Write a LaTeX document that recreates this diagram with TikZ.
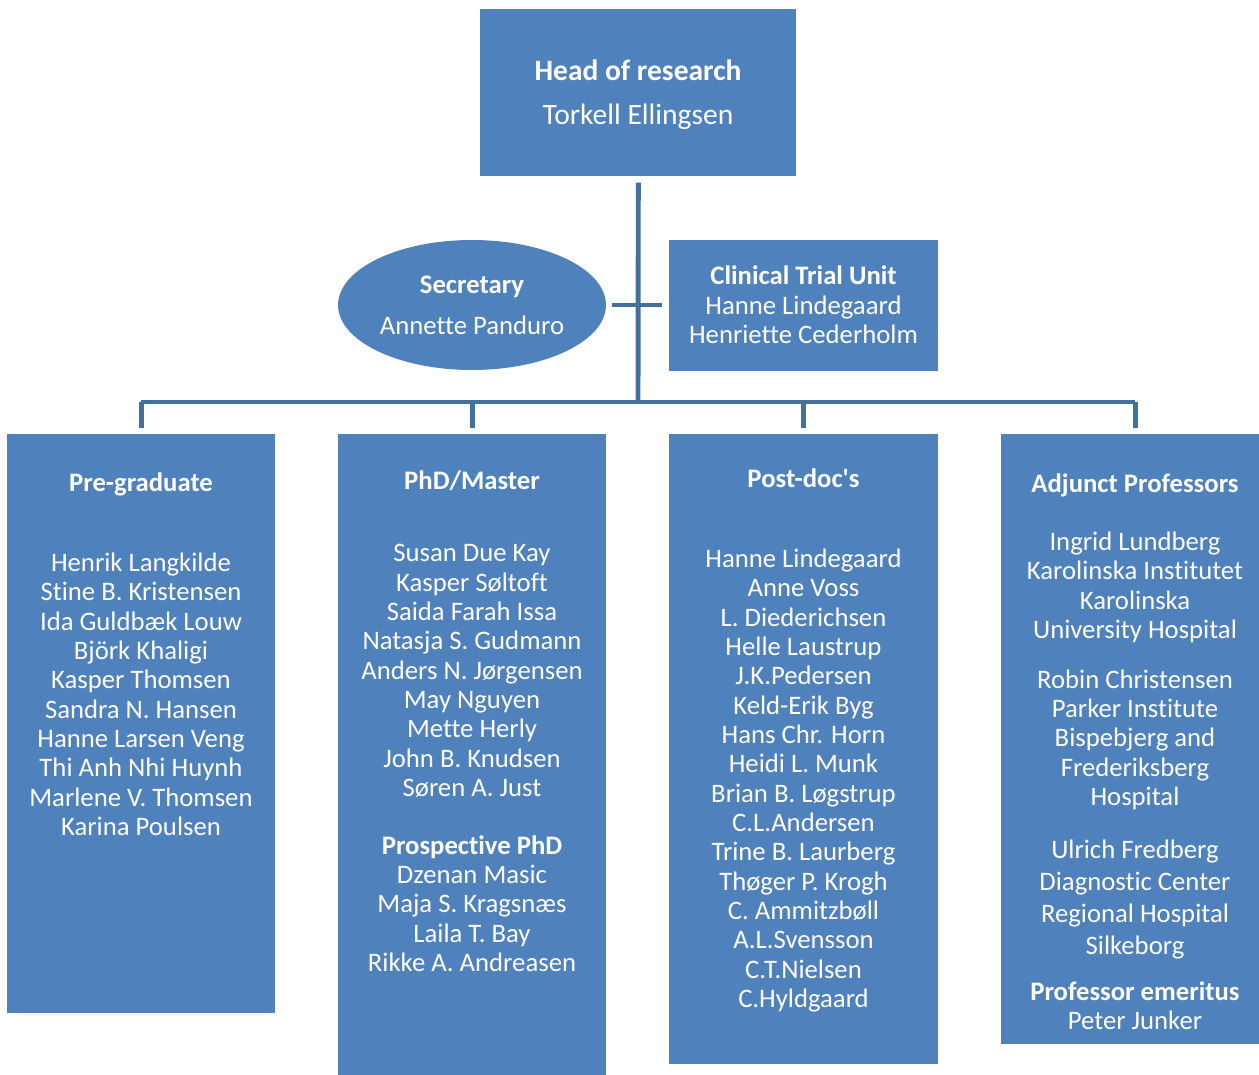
\documentclass[tikz,border=0pt]{standalone}
\usepackage{fontspec}
\setmainfont{Carlito}[Ligatures=NoCommon]
\usetikzlibrary{shapes.geometric}
\definecolor{boxblue}{HTML}{4F81BD}
\definecolor{linkblue}{HTML}{41719C}
\begin{document}
\begin{tikzpicture}[x=0.02cm, y=-0.02cm, line join=round,
		font=\fontsize{15.2}{16.7}\selectfont,
		unit/.style={fill=boxblue, draw=none, inner sep=0pt, anchor=north west},
		txt/.style={text=white, align=center, inner sep=0pt, anchor=base, yshift=-0.05cm},
		link/.style={draw=linkblue, line width=2.8pt}]
	\def\bw{5.36cm} % Box width
	\useasboundingbox (0,0) rectangle (1259,1075);
	
	\node[unit, minimum width=6.32cm, minimum height=3.34cm] (head) at (480,9) {};
	\node[fill=boxblue, ellipse, inner sep=0pt, minimum width=5.36cm, minimum height=2.6cm] (sec) at (472,305) {};
	\node[unit, minimum width=5.38cm, minimum height=2.62cm] (ctu) at (669,240) {};
	\node[unit, minimum width=\bw, minimum height=11.58cm] (pregrad) at (7,434) {};
	\node[unit, minimum width=\bw, minimum height=12.82cm] (phd) at (338,434) {};
	\node[unit, minimum width=5.38cm, minimum height=12.6cm] (postdoc) at (669,434) {};
	\node[unit, minimum width=\bw, minimum height=12.2cm] (adjunct) at (1001,434) {};
	
	% Connectors
	\coordinate (hub) at (638,402);
	\draw[link, shorten <=0.12cm] (head.south) -- (hub);
	\draw[link, shorten <=0.12cm, shorten >=0.14cm] (sec.east) -- (sec.east -| ctu.west);
	\draw[link] (pregrad.north |- hub) -- (adjunct.north |- hub);
	\foreach \b in {pregrad, phd, postdoc, adjunct}
		\draw[link, shorten >=0.12cm] (\b.north |- hub) -- (\b.north);
	
	% Texts (base = last line)
	\node[txt, font=\fontsize{16.8}{18}\selectfont] (headt) at (638,78) {\textbf{Head of research}};
	\node[txt, font=\fontsize{16.8}{18}\selectfont] (headn) at (638,122) {Torkell Ellingsen};
	\node[txt] (sect) at (472,332) {\textbf{Secretary}\\[6.6pt]Annette Panduro};
	\node[txt] (ctut) at (803.5,341) {\textbf{Clinical Trial Unit}\\Hanne Lindegaard\\Henriette Cederholm};
	
	\node[txt] (pregradt) at (141,489) {\textbf{Pre-graduate}};
	\node[txt] (pregradn) at (141,833) {Henrik Langkilde\\Stine B. Kristensen\\Ida Guldbæk Louw\\Björk Khaligi\\Kasper Thomsen\\Sandra N. Hansen\\Hanne Larsen Veng\\Thi Anh Nhi Huynh\\Marlene V. Thomsen\\Karina Poulsen};
	
	\node[txt] (phdt) at (472,487) {\textbf{PhD/Master}};
	\node[txt] (phdn) at (472,794) {Susan Due Kay\\Kasper Søltoft\\Saida Farah Issa\\Natasja S. Gudmann\\Anders N. Jørgensen\\May Nguyen\\Mette Herly\\John B. Knudsen\\Søren A. Just};
	\node[txt] (prosp) at (472,969) {\textbf{Prospective PhD}\\Dzenan Masic\\Maja S. Kragsnæs\\Laila T. Bay\\Rikke A. Andreasen};
	
	\node[txt] (postdoct) at (803.5,485) {\textbf{Post-doc\textquotesingle s}};
	\node[txt] (postdocn) at (803.5,1005) {Hanne Lindegaard\\Anne Voss\\L. Diederichsen\\Helle Laustrup\\J.K.Pedersen\\Keld-Erik Byg\\Hans Chr. Horn\\Heidi L. Munk\\Brian B. Løgstrup\\C.L.Andersen\\Trine B. Laurberg\\Thøger P. Krogh\\C. Ammitzbøll\\A.L.Svensson\\C.T.Nielsen\\C.Hyldgaard};
	
	\node[txt] (adjunctt) at (1135,490) {\textbf{Adjunct Professors}};
	\node[txt] (adjuncta) at (1135,636) {Ingrid Lundberg\\Karolinska Institutet\\Karolinska\\University Hospital};
	\node[txt] (adjunctb) at (1135,803) {Robin Christensen\\Parker Institute\\Bispebjerg and\\Frederiksberg\\Hospital};
	\node[txt] (adjunctc) at (1135,952) {Ulrich Fredberg\\[1.5pt]Diagnostic Center\\[1.5pt]Regional Hospital\\[1.5pt]Silkeborg};
	\node[txt] (emeritus) at (1135,1027) {\textbf{Professor emeritus}\\Peter Junker};
\end{tikzpicture}
\end{document}
